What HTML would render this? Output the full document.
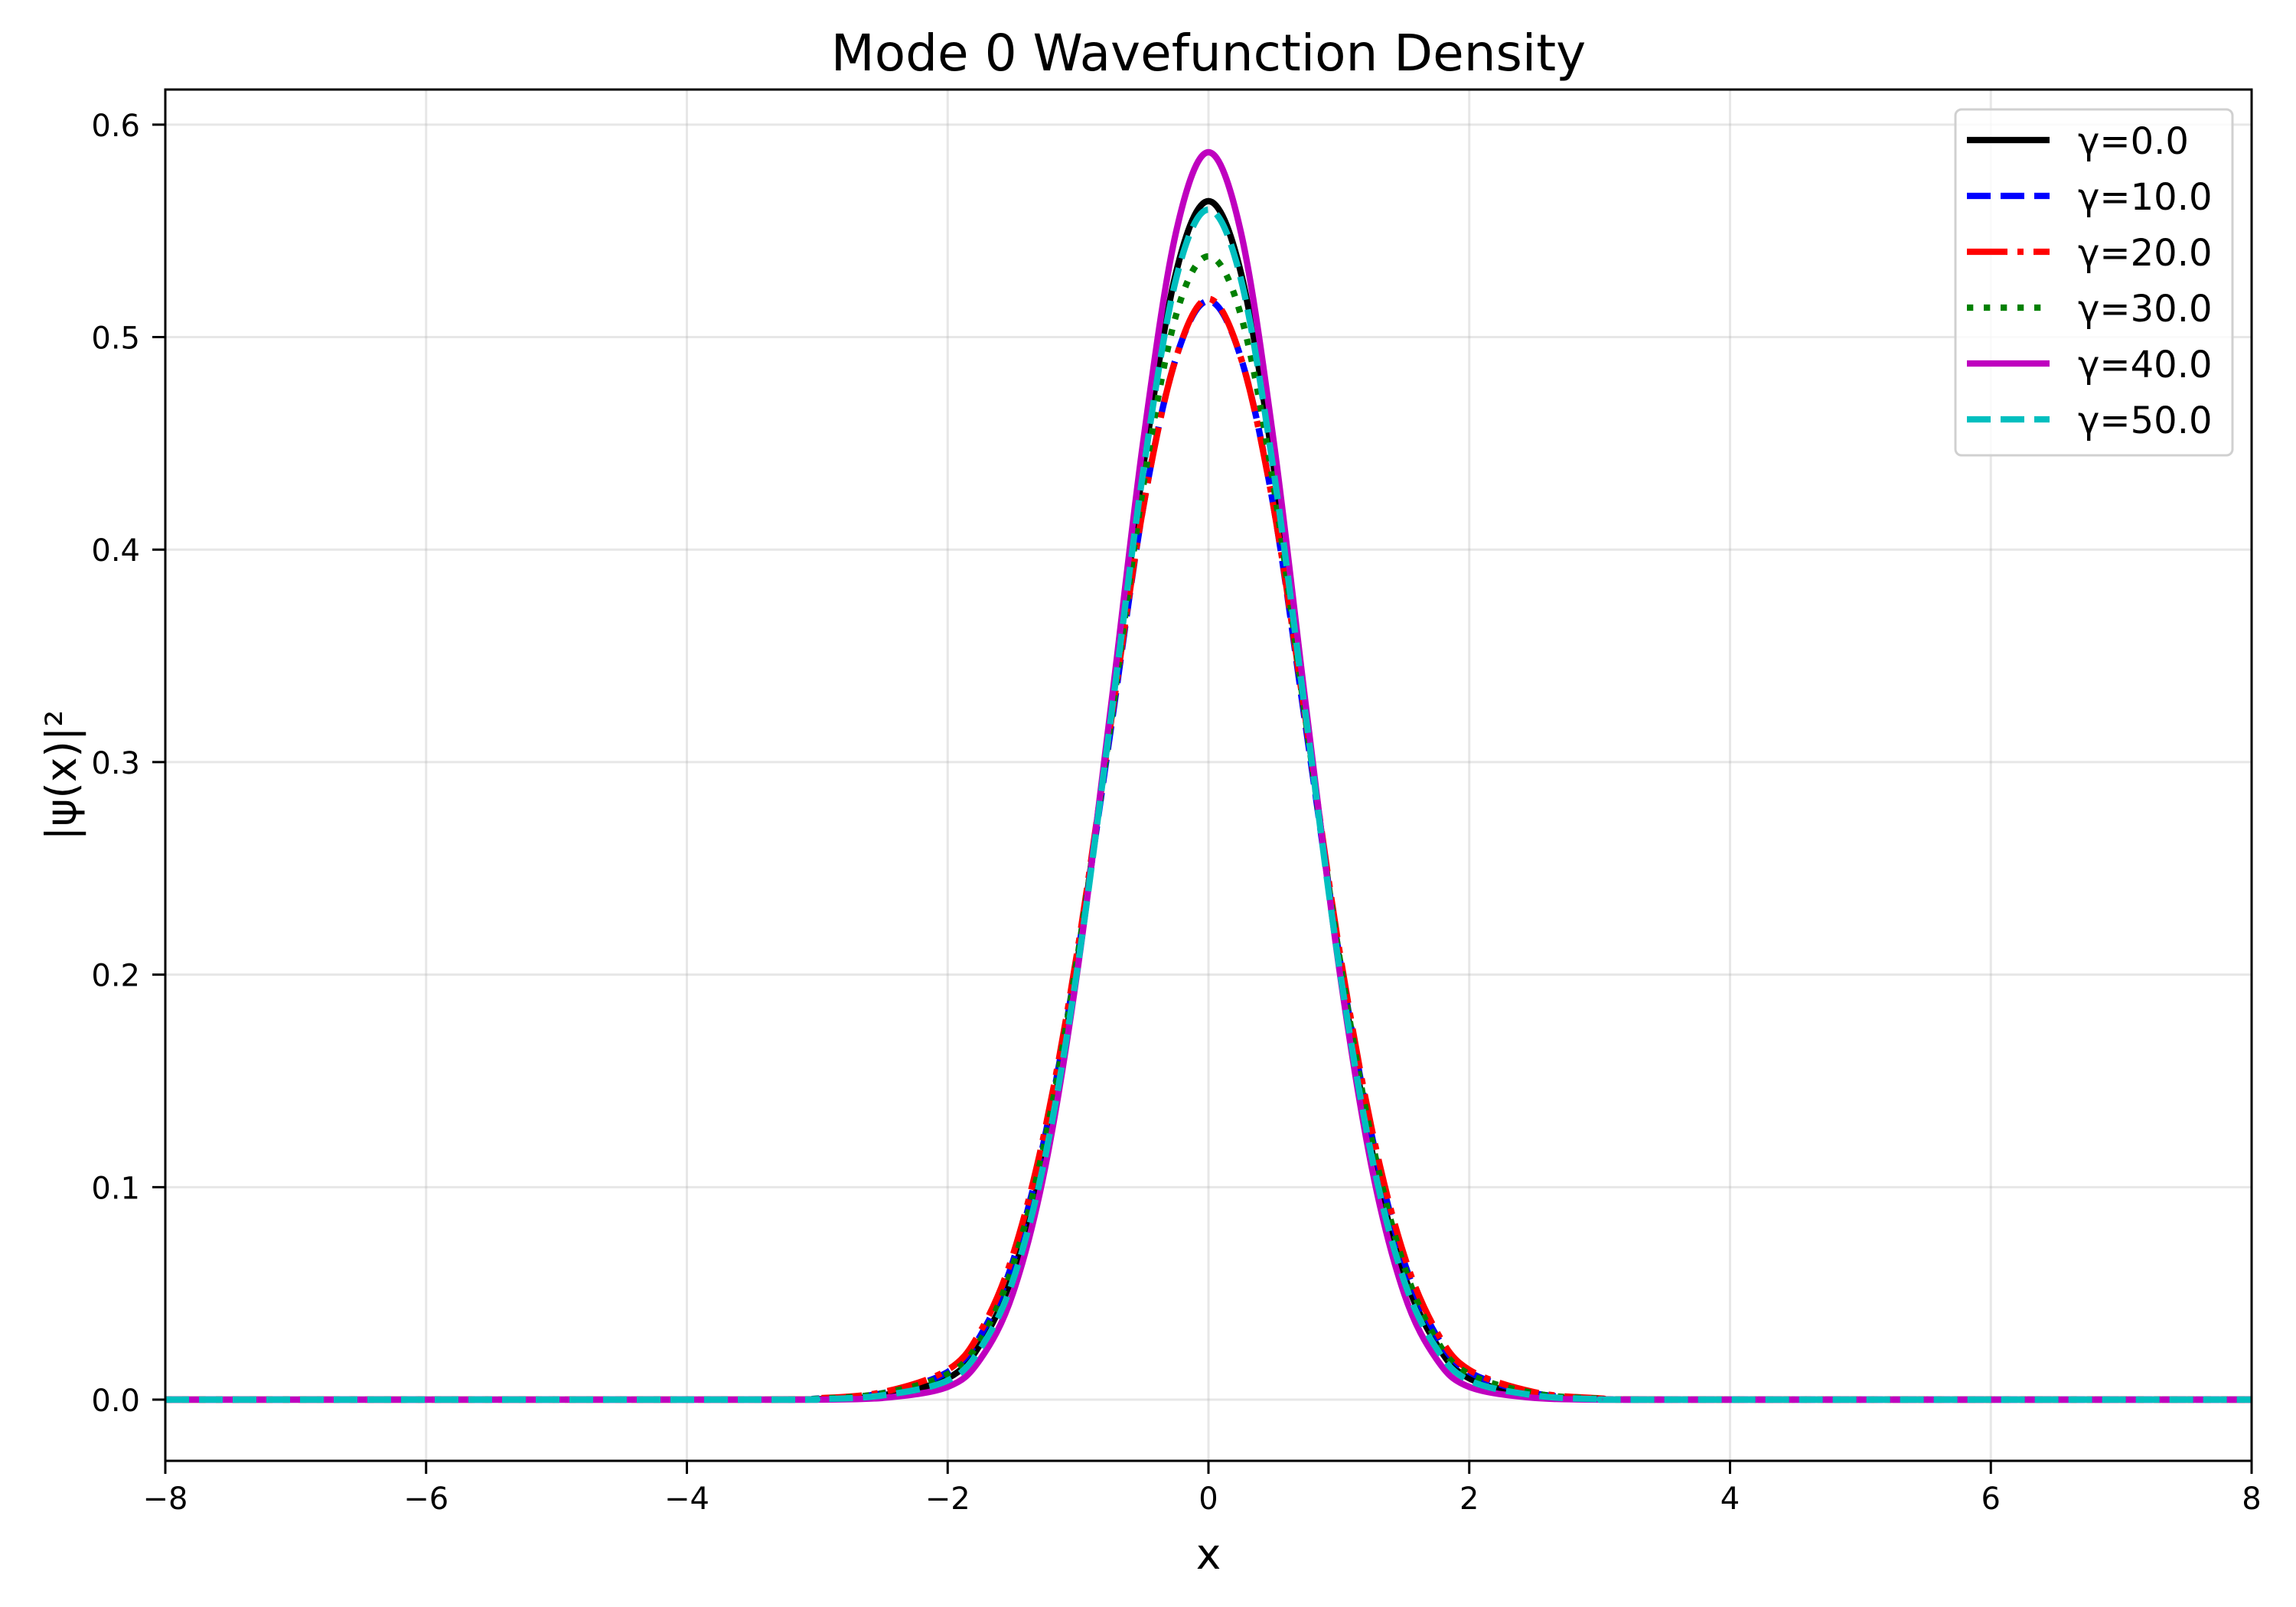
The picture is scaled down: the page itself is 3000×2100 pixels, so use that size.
<!DOCTYPE html>
<html><head><meta charset="utf-8"><style>
html,body{margin:0;padding:0;background:#fff}
svg{display:block}
text{font-family:"DejaVu Sans","Liberation Sans",sans-serif;fill:#000}
</style></head><body>
<svg id="chart" width="3000" height="2100" viewBox="0 0 3000 2100">
<rect x="0" y="0" width="3000" height="2100" fill="#fff"/>
<g id="grid"></g>
<g id="series"></g>
<rect x="216" y="117" width="2726" height="1792" fill="none" stroke="#000" stroke-width="3"/>
<g id="ticks"></g>
<text x="1579" y="92" font-size="66" text-anchor="middle">Mode 0 Wavefunction Density</text>
<text x="1579" y="2050" font-size="55" text-anchor="middle">x</text>
<text x="0" y="0" font-size="55" text-anchor="middle" transform="translate(99,1013) rotate(-90)">|ψ(x)|²</text>
<g id="legend"></g>
</svg>
<script>
const xTicks=[-8,-6,-4,-2,0,2,4,6,8];
const xTickLabels=["−8","−6","−4","−2","0","2","4","6","8"];
const yTicks=[0,0.1,0.2,0.3,0.4,0.5,0.6];
const yTickLabels=["0.0","0.1","0.2","0.3","0.4","0.5","0.6"];
const xs=[-8,-3.5,-3,-2.5,-2,-1.75,-1.5,-1.25,-1,-0.75,-0.5,-0.25,0,0.25,0.5,0.75,1,1.25,1.5,1.75,2,2.5,3,3.5,8];
const seriesNames=["γ=0.0","γ=10.0","γ=20.0","γ=30.0","γ=40.0","γ=50.0"];
const g0=[0,0,0.0002,0.002,0.010,0.026,0.059,0.118,0.208,0.321,0.439,0.530,0.564,0.530,0.439,0.321,0.208,0.118,0.059,0.026,0.010,0.002,0.0002,0,0];
const g10=[0,0,0.0005,0.003,0.013,0.030,0.065,0.125,0.210,0.315,0.420,0.490,0.517,0.490,0.420,0.315,0.210,0.125,0.065,0.030,0.013,0.003,0.0005,0,0];
const g20=[0,0,0.0006,0.0035,0.014,0.032,0.068,0.128,0.213,0.318,0.420,0.490,0.518,0.490,0.420,0.318,0.213,0.128,0.068,0.032,0.014,0.0035,0.0006,0,0];
const g30=[0,0,0.0004,0.003,0.012,0.028,0.063,0.123,0.210,0.318,0.430,0.510,0.538,0.510,0.430,0.318,0.210,0.123,0.063,0.028,0.012,0.003,0.0004,0,0];
const g40=[0,0,0,0.0008,0.006,0.019,0.050,0.110,0.204,0.325,0.451,0.549,0.587,0.549,0.451,0.325,0.204,0.110,0.050,0.019,0.006,0.0008,0,0,0];
const g50=[0,0,0.0002,0.002,0.009,0.024,0.056,0.115,0.205,0.320,0.437,0.527,0.560,0.527,0.437,0.320,0.205,0.115,0.056,0.024,0.009,0.002,0.0002,0,0];
const allSeries=[g0,g10,g20,g30,g40,g50];
const colors=["#000000","#0000ff","#ff0000","#008000","#bf00bf","#00bfbf"];
const dashes=["","31,13","53,13,8,13","8.3,13.7","","31,13"];

const L=216,R=2942,T=117,B=1909,xmin=-8,xmax=8,ymin=-0.0288,ymax=0.6165;
const sx=v=>L+(v-xmin)/(xmax-xmin)*(R-L);
const sy=v=>B-(v-ymin)/(ymax-ymin)*(B-T);
const NS="http://www.w3.org/2000/svg";
function mk(tag,attrs,parent){const e=document.createElementNS(NS,tag);for(const k in attrs)e.setAttribute(k,attrs[k]);parent.appendChild(e);return e;}
const grid=document.getElementById('grid'),ticks=document.getElementById('ticks'),ser=document.getElementById('series'),leg=document.getElementById('legend');
xTicks.forEach((t,i)=>{
 const gl=mk('line',{x1:sx(t),x2:sx(t),y1:T,y2:B,stroke:'#b0b0b0','stroke-opacity':0.3,'stroke-width':3},grid);
 
 
 const tk=mk('line',{x1:sx(t),x2:sx(t),y1:B,y2:B+17,stroke:'#000','stroke-width':3},ticks);
 
 
 const tl=mk('text',{x:sx(t),y:1972,'font-size':40,'text-anchor':'middle'},ticks);
 tl.textContent=xTickLabels[i];
 
 
});
yTicks.forEach((t,i)=>{
 const gl=mk('line',{x1:L,x2:R,y1:sy(t),y2:sy(t),stroke:'#b0b0b0','stroke-opacity':0.3,'stroke-width':3},grid);
 
 
 const tk=mk('line',{x1:L-17,x2:L,y1:sy(t),y2:sy(t),stroke:'#000','stroke-width':3},ticks);
 
 
 const tl=mk('text',{x:L-33,y:sy(t)+15,'font-size':40,'text-anchor':'end'},ticks);
 tl.textContent=yTickLabels[i];
 
 
});
function pathFor(ys){
 const p=xs.map((x,i)=>[sx(x),sy(Math.max(0,ys[i]))]);
 let d='M'+p[0][0]+','+p[0][1];
 for(let i=0;i<p.length-1;i++){
  const p0=p[Math.max(0,i-1)],p1=p[i],p2=p[i+1],p3=p[Math.min(p.length-1,i+2)];
  if(i===0||i===p.length-2){d+=' L'+p2[0]+','+p2[1];continue;}
  let c1=[p1[0]+(p2[0]-p0[0])/6,p1[1]+(p2[1]-p0[1])/6];
  let c2=[p2[0]-(p3[0]-p1[0])/6,p2[1]-(p3[1]-p1[1])/6];
  c1[1]=Math.min(c1[1],sy(0));c2[1]=Math.min(c2[1],sy(0));
  d+=' C'+c1[0]+','+c1[1]+' '+c2[0]+','+c2[1]+' '+p2[0]+','+p2[1];
 }
 return d;
}
allSeries.forEach((ys,i)=>{
 const a={d:pathFor(ys),fill:'none',stroke:colors[i],'stroke-width':8.3};
 if(dashes[i])a['stroke-dasharray']=dashes[i];
 const p=mk('path',a,ser);
 
 
});
const box=mk('rect',{x:2555,y:143,width:362,height:452,rx:8,fill:'#fff','fill-opacity':0.8,stroke:'#d0d0d0','stroke-width':3},leg);


seriesNames.forEach((n,i)=>{
 const y=183+i*73;
 const a={x1:2570,x2:2678,y1:y,y2:y,stroke:colors[i],'stroke-width':8.3};
 if(dashes[i])a['stroke-dasharray']=dashes[i];
 const l=mk('line',a,leg);
 
 
 const t=mk('text',{x:2715,y:y+18,'font-size':48},leg);
 t.textContent=n;
 
 
});
</script>
</body></html>
